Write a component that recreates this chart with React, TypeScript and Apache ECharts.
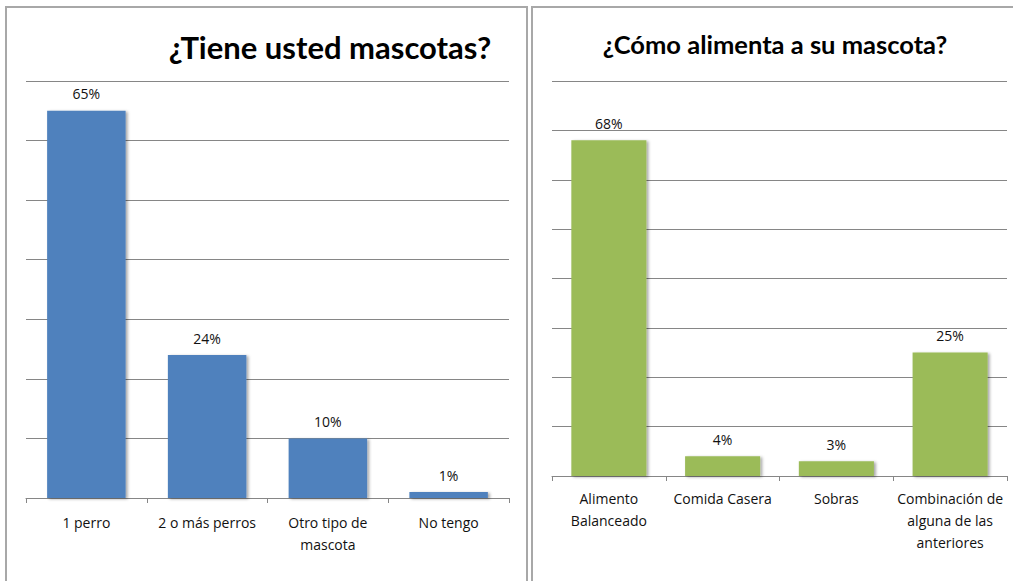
import React, { useEffect, useRef } from "react";
import * as echarts from "echarts";

const petCategories = ["1 perro", "2 o más perros", "Otro tipo de\nmascota", "No tengo"];
const petValues = [65, 24, 10, 1];
const foodCategories = ["Alimento\nBalanceado", "Comida Casera", "Sobras", "Combinación de\nalguna de las\nanteriores"];
const foodValues = [68, 4, 3, 25];
const leftTitle = "¿Tiene usted mascotas?";
const rightTitle = "¿Cómo alimenta a su mascota?";

const TITLE_FONT = "Lato, 'Open Sans', sans-serif";
const FONT = "'Open Sans', Lato, sans-serif";

export default function App() {
  const ref = useRef<HTMLDivElement>(null);
  useEffect(() => {
    document.body.style.margin = "0";
    const chart = echarts.init(ref.current!, null, { renderer: "svg" });
    const gridColor = "#868686";
    const mkX = (gridIndex: number, data: string[], margin: number) => ({
      type: "category",
      gridIndex,
      data,
      axisLine: { show: true, lineStyle: { color: gridColor, width: 1 } },
      axisTick: { show: true, length: 5, lineStyle: { color: gridColor } },
      axisLabel: {
        interval: 0,
        margin,
        fontSize: 14,
        lineHeight: 22,
        color: "#111",
        fontFamily: FONT,
      },
    });
    const mkY = (gridIndex: number, max: number) => ({
      type: "value",
      gridIndex,
      min: 0,
      max,
      interval: 10,
      axisLine: { show: false },
      axisTick: { show: false },
      axisLabel: { show: false },
      splitLine: { show: true, lineStyle: { color: gridColor, width: 1 } },
    });
    const mkSeries = (i: number, data: number[], color: string, width: string) => ({
      type: "bar",
      xAxisIndex: i,
      yAxisIndex: i,
      data,
      barWidth: width,
      itemStyle: {
        color,
        shadowColor: "rgba(0,0,0,0.35)",
        shadowBlur: 3,
        shadowOffsetX: 2,
        shadowOffsetY: 1,
      },
      label: {
        show: true,
        position: "top",
        distance: 10,
        formatter: (p: any) => p.value + "%",
        fontSize: 14,
        color: "#111",
        fontFamily: FONT,
      },
    });
    chart.setOption({
      animation: false,
      grid: [
        { left: 26, right: 1013 - 509, top: 81, bottom: 581 - 498 },
        { left: 552, right: 1013 - 1007, top: 81, bottom: 581 - 476 },
      ],
      xAxis: [mkX(0, petCategories, 13), mkX(1, foodCategories, 11)],
      yAxis: [mkY(0, 70), mkY(1, 80)],
      series: [
        mkSeries(0, petValues, "#4F81BD", "65%"),
        mkSeries(1, foodValues, "#9BBB59", "66%"),
      ],
      graphic: [
        {
          type: "rect",
          shape: { x: 6, y: 7, width: 521, height: 620 },
          style: { fill: "none", stroke: "#a8a8a8", lineWidth: 2 },
          silent: true,
        },
        {
          type: "rect",
          shape: { x: 532, y: 7, width: 520, height: 620 },
          style: { fill: "none", stroke: "#a8a8a8", lineWidth: 2 },
          silent: true,
        },
        {
          type: "text",
          x: 330,
          y: 47,
          style: {
            text: leftTitle,
            textAlign: "center",
            textVerticalAlign: "middle",
            fontSize: 31,
            fontWeight: "bold",
            fontFamily: TITLE_FONT,
            fill: "#000",
          },
        },
        {
          type: "text",
          x: 775,
          y: 44,
          style: {
            text: rightTitle,
            textAlign: "center",
            textVerticalAlign: "middle",
            fontSize: 25.5,
            fontWeight: "bold",
            fontFamily: TITLE_FONT,
            fill: "#000",
          },
        },
      ],
    });
    return () => chart.dispose();
  }, []);
  return (
    <div
      ref={ref}
      style={{ position: "absolute", left: 0, top: 0, width: 1013, height: 581, background: "#fff" }}
    />
  );
}
